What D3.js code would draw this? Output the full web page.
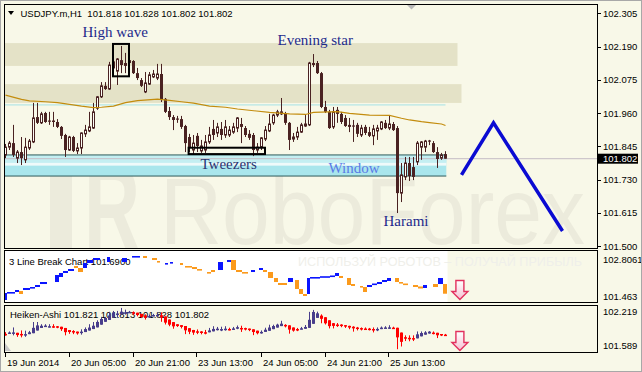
<!DOCTYPE html>
<html><head><meta charset="utf-8">
<script src="https://cdn.jsdelivr.net/npm/d3@7"></script>
<style>body{margin:0;background:#f8f8e8}svg{display:block}</style>
</head><body><svg id="c" width="642" height="372"></svg>
<script>
// ---------- DATA ----------
const open = [101.815,101.842,101.856,101.804,101.825,101.798,101.839,101.860,101.946,101.926,101.960,101.932,101.934,101.929,101.912,101.884,101.832,101.877,101.829,101.839,101.888,101.898,101.908,101.977,102.016,102.054,102.043,102.116,102.105,102.143,102.133,102.143,102.140,102.098,102.074,102.033,102.060,102.085,102.081,102.095,102.009,101.967,101.946,101.939,101.939,101.915,101.877,101.832,101.881,101.829,101.832,101.860,101.905,101.891,101.905,101.884,101.884,101.894,101.908,101.922,101.908,101.888,101.884,101.832,101.842,101.870,101.898,101.926,101.953,101.957,101.960,101.926,101.870,101.877,101.894,101.915,101.919,102.133,102.133,102.098,101.981,101.964,101.912,101.971,101.957,101.943,101.919,101.915,101.919,101.884,101.912,101.894,101.881,101.898,101.905,101.926,101.908,101.922,101.908,101.683,101.739,101.787,101.773,101.791,101.842,101.842,101.862,101.856,101.825,101.804,101.818];
const high = [101.853,101.863,101.919,101.832,101.877,101.874,101.870,101.995,101.995,101.964,101.964,101.964,101.964,101.939,101.915,101.888,101.881,101.881,101.856,101.893,101.919,101.964,101.995,102.019,102.067,102.067,102.137,102.150,102.150,102.192,102.168,102.150,102.143,102.116,102.081,102.102,102.102,102.109,102.130,102.130,102.012,101.981,101.953,101.950,101.950,101.919,101.888,101.884,101.891,101.867,101.884,101.912,101.936,101.926,101.929,101.936,101.915,101.926,101.946,101.943,101.915,101.901,101.891,101.856,101.877,101.915,101.957,101.957,101.971,102.012,101.964,101.929,101.891,101.912,101.926,101.953,102.137,102.164,102.140,102.102,102.002,101.971,101.981,101.981,101.964,101.953,101.943,101.936,101.926,101.919,101.919,101.912,101.919,101.919,101.932,101.936,101.950,101.929,101.915,101.787,101.808,101.808,101.808,101.863,101.863,101.867,101.867,101.863,101.842,101.822,101.828];
const low = [101.804,101.832,101.808,101.787,101.780,101.787,101.832,101.856,101.922,101.922,101.926,101.919,101.912,101.908,101.870,101.808,101.829,101.825,101.818,101.818,101.877,101.894,101.905,101.971,102.012,102.040,102.040,102.109,102.057,102.098,102.098,102.123,102.095,102.074,102.050,102.029,102.057,102.081,102.074,101.998,101.960,101.936,101.901,101.926,101.905,101.825,101.825,101.815,101.825,101.822,101.822,101.853,101.867,101.877,101.867,101.874,101.877,101.888,101.894,101.856,101.877,101.867,101.811,101.822,101.832,101.863,101.894,101.919,101.946,101.953,101.919,101.832,101.860,101.867,101.891,101.912,101.915,102.119,102.095,101.977,101.960,101.905,101.905,101.926,101.922,101.912,101.894,101.860,101.877,101.877,101.884,101.877,101.849,101.867,101.901,101.905,101.901,101.898,101.614,101.652,101.728,101.725,101.728,101.780,101.798,101.825,101.849,101.822,101.770,101.798,101.802];
const close = [101.842,101.856,101.815,101.825,101.804,101.842,101.863,101.943,101.926,101.957,101.929,101.930,101.929,101.912,101.881,101.832,101.877,101.829,101.839,101.891,101.901,101.912,101.964,102.016,102.054,102.043,102.126,102.137,102.147,102.126,102.123,102.133,102.098,102.081,102.054,102.064,102.092,102.095,102.095,102.005,101.964,101.946,101.936,101.938,101.912,101.856,101.842,101.856,101.846,101.846,101.860,101.884,101.884,101.912,101.884,101.912,101.901,101.912,101.943,101.912,101.884,101.874,101.832,101.842,101.874,101.901,101.922,101.953,101.964,101.964,101.926,101.867,101.877,101.894,101.919,101.922,102.133,102.126,102.098,101.981,101.964,101.908,101.964,101.957,101.929,101.915,101.912,101.913,101.888,101.908,101.891,101.881,101.905,101.908,101.929,101.908,101.922,101.901,101.683,101.746,101.787,101.742,101.739,101.856,101.860,101.863,101.863,101.825,101.801,101.815,101.802];

// moving average (read at sample bars)
const maIdx = [0,4,6,10,13,16,19,22,24,27,30,33,38,41,44,47,51,55,58,66,71,75,77,83,86,91,96,99,101,104,106,109,110];
const maVal = [102.022,102.007,102.002,101.999,101.996,101.990,101.984,101.979,101.980,101.984,101.996,102.003,102.008,102.004,101.999,101.994,101.984,101.980,101.974,101.962,101.957,101.955,101.962,101.965,101.959,101.953,101.952,101.942,101.936,101.930,101.927,101.922,101.917];

// 3 line break bricks: start bar, end bar, open, close
const lbStart = [0,0.5,2.5,3.5,4.5,6.25,7.5,8.75,12.5,13.5,14.5,15.75,17.25,18.25,19.5,20.5,22,25.5,29.25,31.75,34.5,36.75,38,40,41.25,43.75,45,46.75,48,50.5,51.5,53.25,55.5,56.5,57.75,59.25,61.5,63.5,64.5,65.75,67.25,68.25,70.75,72.5,73.5,74.5,75.5,76.25,78.75,81.25,82.5,83.5,85.5,86.5,88.75,89.5,90.5,91.75,93,94.25,95.5,97.5,98.5,99.5,102,103.25,104.5,107,108.25,109.5];
const lbEnd   = [0.5,2.5,3.5,4.5,6.25,7.5,8.75,10.5,13.5,14.5,15.75,17.25,18.25,19.5,20.5,22,23.75,26.25,30.5,33.75,35.5,38,38.75,40.75,42,44.5,46.75,48,49.25,51.5,52.5,54.5,56.5,57.75,59.25,60.75,62.5,64.5,65.5,67,68.25,70.5,72,73.5,74.5,75.5,76.25,78.75,81.25,82.5,83.5,84.5,86.5,87.5,89.5,90.5,91.75,93,94.25,95.5,96.5,98.5,99.5,100.75,103.25,104.5,105.5,108.25,109.5,110.5];
const lbOpen  = [101.518,101.710,101.737,101.765,101.792,101.847,101.874,101.956,102.011,102.148,102.258,102.313,102.450,102.395,102.395,102.532,102.614,102.559,102.559,102.696,102.724,102.669,102.587,102.504,102.532,102.532,102.450,102.422,102.367,102.285,102.340,102.340,102.559,102.614,102.340,102.285,102.285,102.340,102.340,102.285,102.121,101.984,102.011,102.066,101.819,101.682,101.682,102.121,102.148,102.160,102.176,102.176,102.121,101.956,101.902,101.874,101.874,101.929,101.956,102.011,102.039,102.121,102.011,101.970,101.929,101.888,101.847,101.956,101.956,101.956];
const lbClose = [101.710,101.737,101.792,101.682,101.847,101.874,101.929,102.011,102.203,102.258,102.313,102.367,102.395,102.285,102.532,102.614,102.669,102.696,102.669,102.724,102.669,102.614,102.559,102.532,102.559,102.477,102.422,102.367,102.340,102.258,102.285,102.559,102.614,102.340,102.285,102.258,102.340,102.395,102.285,102.121,102.011,101.929,102.121,101.819,101.682,101.627,102.121,102.148,102.170,102.190,102.258,102.121,101.929,101.902,101.874,101.737,101.929,101.970,102.011,102.066,102.121,102.011,101.970,101.943,101.874,101.833,101.929,101.874,102.121,101.690];

// forecast zigzag
const fcIdx = [114,122,139.25];
const fcVal = [101.746,101.926,101.552];

const mainTicks = [102.305,102.190,102.075,101.960,101.845,101.730,101.615,101.500];
const lastPrice = 101.802;
const timeIdx = [0,16,32,48,64,80,96];
const timeLabels = ["19 Jun 2014","20 Jun 05:00","20 Jun 21:00","23 Jun 13:00","24 Jun 05:00","24 Jun 21:00","25 Jun 13:00"];

// zones (price ranges, bar ranges)
const beigeZones = [[102.202,102.123,-1.2,113],[102.060,101.995,-1.2,114]];
const annotations = [
  {t:"High wave", i:19.25, p:102.224, c:"#1e2a8c"},
  {t:"Evening star", i:68, p:102.195, c:"#1e2a8c"},
  {t:"Tweezers", i:48.75, p:101.765, c:"#2a3470"},
  {t:"Window", i:80.75, p:101.752, c:"#5a7ae6"},
  {t:"Harami", i:94.5, p:101.569, c:"#1e2a8c"}
];
const boxes = [[27,31,102.199,102.087],[45.9,65,101.840,101.818]];

// ---------- SCALES ----------
const svg = d3.select('#c');
const W=642,H=372, BG='#f8f8e8', DARK='#4a2222', FONT="'Liberation Sans', Arial, sans-serif";
const x = d3.scaleLinear().domain([0,110]).range([5.5,445.5]);
const yM = d3.scaleLinear().domain([101.5,102.305]).range([246,13.3]);
const y1 = d3.scaleLinear().domain([101.463,102.8061]).range([302,253]);
const y2 = d3.scaleLinear().domain([101.589,102.219]).range([351,306]);

svg.append('rect').attr('width',W).attr('height',H).attr('fill',BG);
const defs = svg.append('defs');
defs.append('clipPath').attr('id','cm').append('rect').attr('x',5).attr('y',5).attr('width',592).attr('height',243);
const g = defs.append('linearGradient').attr('id','ag').attr('x1',0).attr('y1',0).attr('x2',0).attr('y2',1);
g.append('stop').attr('offset','0').attr('stop-color','#ffffff');
g.append('stop').attr('offset','1').attr('stop-color','#f5c0d2');

// ---------- MAIN PANEL ----------
const m = svg.append('g').attr('clip-path','url(#cm)');
// watermark
m.append('rect').attr('x',50).attr('y',160).attr('width',22).attr('height',92).attr('fill','#ecebdc');
m.append('text').attr('x',84).attr('y',250).attr('font-family',FONT).attr('font-size',120).attr('font-weight','bold')
 .attr('textLength',56).attr('lengthAdjust','spacingAndGlyphs').attr('fill','#ecebdc').text('R');
m.append('text').attr('x',160).attr('y',244).attr('font-family',FONT).attr('font-size',94)
 .attr('textLength',425).attr('lengthAdjust','spacingAndGlyphs').attr('fill','#ecebdc').text('RoboForex');
// beige zones
beigeZones.forEach(z=>{
  m.append('rect').attr('x',x(z[2])).attr('y',yM(z[0])).attr('width',x(z[3])-x(z[2])).attr('height',yM(z[1])-yM(z[0])).attr('fill','#e4e2c7');
});
// cyan line
m.append('line').attr('x1',x(-1.2)).attr('x2',x(110)).attr('y1',yM(101.988)).attr('y2',yM(101.988)).attr('stroke','#a6e2e6').attr('stroke-width',1);
// cyan window zone
m.append('rect').attr('x',x(-1.2)).attr('y',yM(101.815)).attr('width',x(110.2)-x(-1.2)).attr('height',yM(101.742)-yM(101.815)).attr('fill','#a9e6ec');
m.append('rect').attr('x',x(-1.2)).attr('y',yM(101.815)).attr('width',x(110.2)-x(-1.2)).attr('height',yM(101.788)-yM(101.815)).attr('fill','#c4eff2');
m.append('rect').attr('x',x(-1.2)).attr('y',yM(101.788)).attr('width',x(110.2)-x(-1.2)).attr('height',yM(101.778)-yM(101.788)).attr('fill','#effafa');
[101.815,101.742].forEach(v=>m.append('line').attr('x1',x(-1.2)).attr('x2',x(110.2)).attr('y1',yM(v)).attr('y2',yM(v)).attr('stroke','#2f5a5a').attr('stroke-width',1));
// last price line
m.append('line').attr('x1',5).attr('x2',597).attr('y1',yM(lastPrice)).attr('y2',yM(lastPrice)).attr('stroke','#c4bcc4').attr('stroke-width',1);

// candles
const cg = m.append('g');
open.forEach((o,i)=>{
  const c=close[i], cx=x(i);
  cg.append('line').attr('x1',cx).attr('x2',cx).attr('y1',yM(high[i])).attr('y2',yM(low[i])).attr('stroke',DARK).attr('stroke-width',1);
  const top=yM(Math.max(o,c)), bot=yM(Math.min(o,c));
  if (bot-top<1) {
    cg.append('line').attr('x1',cx-1.5).attr('x2',cx+1.5).attr('y1',top).attr('y2',top).attr('stroke',DARK).attr('stroke-width',1.2);
  } else if (c>o) {
    cg.append('rect').attr('x',cx-1).attr('y',top).attr('width',2).attr('height',bot-top).attr('fill','#fdfdf6').attr('stroke',DARK).attr('stroke-width',1);
  } else {
    cg.append('rect').attr('x',cx-1.5).attr('y',top).attr('width',3).attr('height',bot-top).attr('fill',DARK);
  }
});
// MA
m.append('path').datum(maIdx.map((d,k)=>[d,maVal[k]]))
 .attr('d',d3.line().x(d=>x(d[0])).y(d=>yM(d[1])))
 .attr('fill','none').attr('stroke','#c38c0e').attr('stroke-width',1.2);
// boxes
boxes.forEach(b=>{
  m.append('rect').attr('x',x(b[0])-0.5).attr('y',yM(b[2])).attr('width',x(b[1])-x(b[0])).attr('height',yM(b[3])-yM(b[2]))
   .attr('fill','none').attr('stroke','#000').attr('stroke-width',2);
});
// annotations
annotations.forEach(a=>{
  m.append('text').attr('x',x(a.i)).attr('y',yM(a.p)).attr('font-family',"'Liberation Serif','Times New Roman',serif")
   .attr('font-size',15).attr('fill',a.c).text(a.t);
});
// forecast zigzag
m.append('path').datum(fcIdx.map((d,k)=>[d,fcVal[k]]))
 .attr('d',d3.line().x(d=>x(d[0])).y(d=>yM(d[1])))
 .attr('fill','none').attr('stroke','#0a0ad2').attr('stroke-width',3.5).attr('stroke-linejoin','miter');
// shift marker
svg.append('path').attr('d','M407,5 L416,5 L411.5,9.5 Z').attr('fill','#b8b8b8');

// title
svg.append('path').attr('d','M8,11 L14,11 L11,15 Z').attr('fill','#000');
svg.append('text').attr('x',20.5).attr('y',16.5).attr('font-family',FONT).attr('font-size',9.5).attr('fill','#000')
 .attr('xml:space','preserve').text('USDJPY.m,H1  101.818 101.828 101.802 101.802');

// main axis
mainTicks.forEach(v=>{
  svg.append('line').attr('x1',597).attr('x2',601).attr('y1',Math.round(yM(v))+0.5).attr('y2',Math.round(yM(v))+0.5).attr('stroke','#000');
  svg.append('text').attr('x',603).attr('y',yM(v)+3.5).attr('font-family',FONT).attr('font-size',9.5).attr('fill','#000').text(v.toFixed(3));
});
svg.append('rect').attr('x',598).attr('y',yM(lastPrice)-5).attr('width',40).attr('height',10).attr('fill','#000');
svg.append('text').attr('x',603).attr('y',yM(lastPrice)+3.5).attr('font-family',FONT).attr('font-size',9.5).attr('fill','#fff').text(lastPrice.toFixed(3));

// ---------- SUB 1 : 3 Line Break ----------
svg.append('rect').attr('x',5).attr('y',251).attr('width',x(110.5)-5).attr('height',51).attr('fill','#ffffff');
svg.append('text').attr('x',298).attr('y',266).attr('font-family',FONT).attr('font-size',12)
 .attr('textLength',284).attr('lengthAdjust','spacingAndGlyphs').attr('fill','#efefea').text('ИСПОЛЬЗУЙ РОБОТОВ – ПОЛУЧАЙ ПРИБЫЛЬ');
svg.append('text').attr('x',9).attr('y',265).attr('font-family',FONT).attr('font-size',9.5).attr('fill','#000').text('3 Line Break Chart 101.6900');
lbStart.forEach((s,k)=>{
  const o=lbOpen[k], c=lbClose[k];
  const top=y1(Math.max(o,c)), bot=y1(Math.min(o,c));
  const h=Math.max(bot-top,1.6);
  svg.append('rect').attr('x',x(s)-0.5).attr('y',top).attr('width',x(lbEnd[k])-x(s)).attr('height',h)
   .attr('fill', c>o ? '#0a14ff' : '#fb9a1c');
});
svg.append('text').attr('x',603).attr('y',y1(102.8061)+10).attr('font-family',FONT).attr('font-size',9.5).attr('fill','#000').text('102.8061');
svg.append('text').attr('x',603).attr('y',y1(101.463)-2).attr('font-family',FONT).attr('font-size',9.5).attr('fill','#000').text('101.463');

// ---------- SUB 2 : Heiken-Ashi ----------
svg.append('text').attr('x',10).attr('y',318).attr('font-family',FONT).attr('font-size',9.5).attr('fill','#000').text('Heiken-Ashi 101.821 101.813 101.828 101.802');
let po, pc;
open.forEach((o,i)=>{
  const hc=(o+high[i]+low[i]+close[i])/4;
  const ho= i===0 ? (o+close[i])/2 : (po+pc)/2;
  const hh=Math.max(high[i],ho,hc), hl=Math.min(low[i],ho,hc);
  po=ho; pc=hc;
  const col = hc>ho ? '#483d8b' : '#ff0000';
  const cx=x(i);
  svg.append('line').attr('x1',cx).attr('x2',cx).attr('y1',y2(hh)).attr('y2',y2(hl)).attr('stroke',col).attr('stroke-width',1);
  const top=y2(Math.max(ho,hc)), bot=y2(Math.min(ho,hc));
  svg.append('rect').attr('x',cx-1.5).attr('y',top).attr('width',3).attr('height',Math.max(bot-top,1.5)).attr('fill',col);
});
svg.append('path').attr('d','M5,343 L5,351 L11,351 Z').attr('fill','#c8c8c8');
svg.append('text').attr('x',603).attr('y',y2(102.219)+9).attr('font-family',FONT).attr('font-size',9.5).attr('fill','#000').text('102.219');
svg.append('text').attr('x',603).attr('y',y2(101.589)-2.5).attr('font-family',FONT).attr('font-size',9.5).attr('fill','#000').text('101.589');

// arrows
function arrow(cx, top){
  svg.append('path').attr('d',`M${cx-4},${top} L${cx+4},${top} L${cx+4},${top+11} L${cx+8},${top+11} L${cx},${top+19} L${cx-8},${top+11} L${cx-4},${top+11} Z`)
   .attr('fill','url(#ag)').attr('stroke','#e2305e').attr('stroke-width',1.4);
}
arrow(x(113.6), 280.5);
arrow(x(113.6), 331.5);

// ---------- FRAMES ----------
[[4.5,4.5,593,244],[4.5,250.5,593,52],[4.5,305.5,593,47]].forEach(r=>{
  svg.append('rect').attr('x',r[0]).attr('y',r[1]).attr('width',r[2]).attr('height',r[3]).attr('fill','none').attr('stroke','#000').attr('stroke-width',1);
});
svg.append('rect').attr('x',0.5).attr('y',0.5).attr('width',641).attr('height',371).attr('fill','none').attr('stroke','#a8a8a8');

// time axis
timeIdx.forEach((t,k)=>{
  const tx=Math.round(x(t))-0.5;
  svg.append('line').attr('x1',tx).attr('x2',tx).attr('y1',352.5).attr('y2',357).attr('stroke','#000');
  svg.append('text').attr('x',tx+1.5).attr('y',366).attr('font-family',FONT).attr('font-size',9.5).attr('fill','#000').text(timeLabels[k]);
});
</script></body></html>
